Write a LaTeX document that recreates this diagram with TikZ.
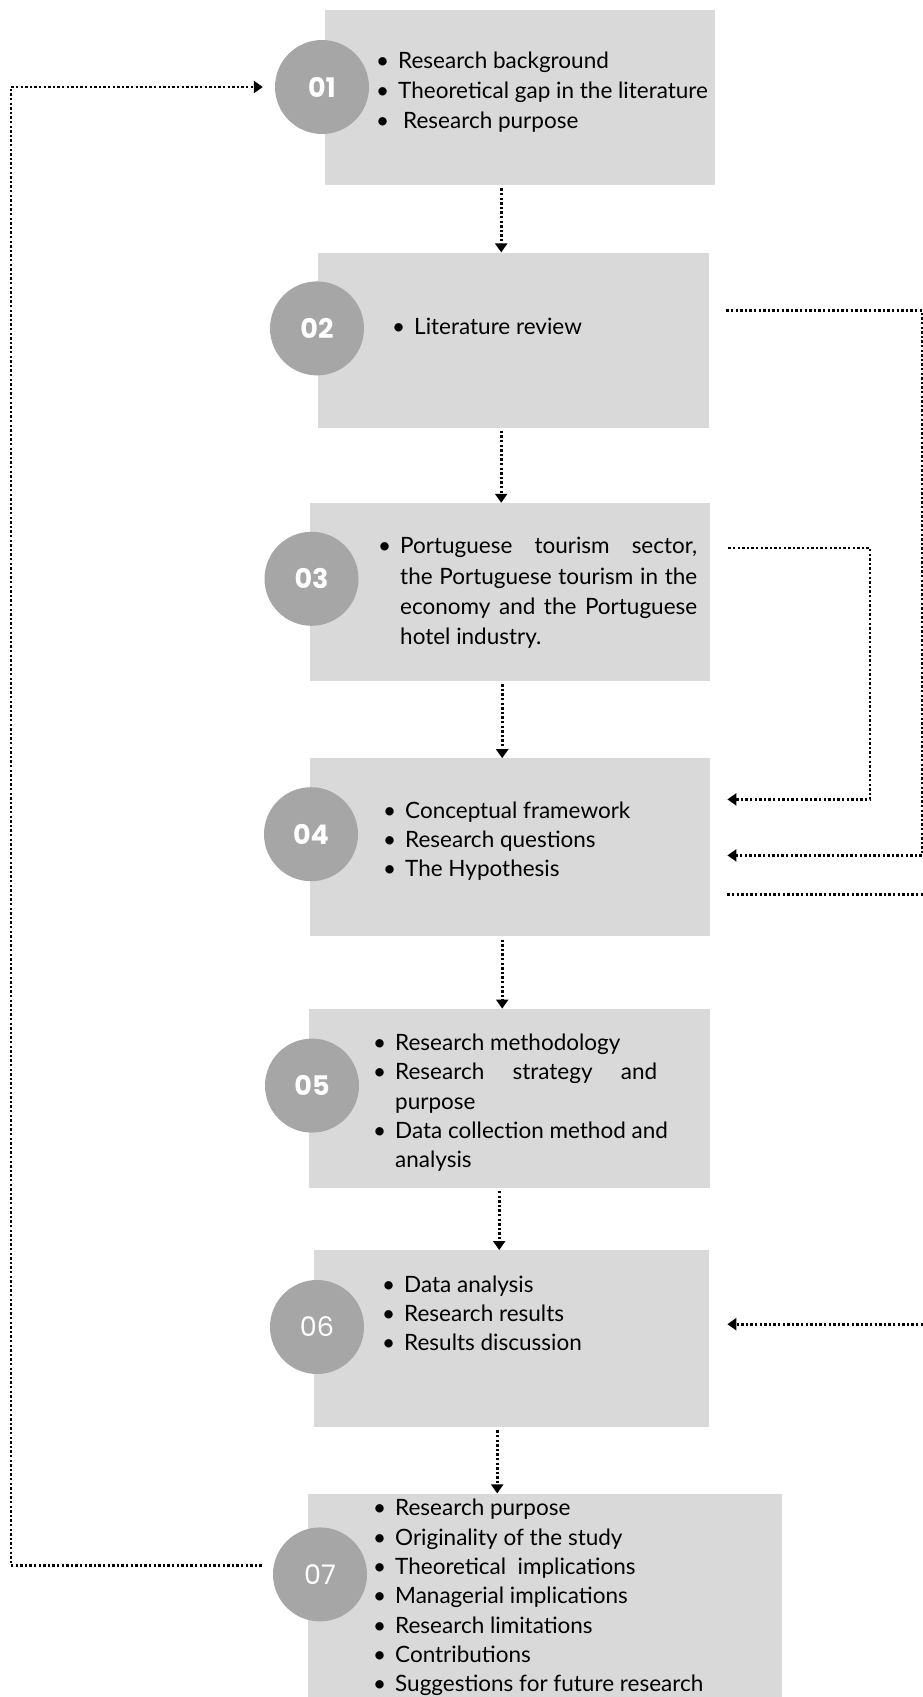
\documentclass[tikz,border=0pt]{standalone}
\usepackage{fontspec}
\setmainfont{Lato}
\newfontfamily\numfont{Poppins}
\usetikzlibrary{positioning, arrows.meta}

\definecolor{panelgray}{HTML}{D9D9D9}
\definecolor{discgray}{HTML}{A6A6A6}

\newlength{\bulletgap}
\setlength{\bulletgap}{22pt}
\newcommand{\bitem}[1]{\hangindent=\bulletgap\hangafter=1\noindent\makebox[\bulletgap][l]{\textbullet}#1\par}

\begin{document}
\begin{tikzpicture}[
    x=1pt, y=-1pt,
    panel/.style 2 args={rectangle, fill=panelgray, minimum width=#1, minimum height=#2, inner sep=0pt, anchor=north west},
    disc/.style={circle, fill=discgray, minimum size=94pt, inner sep=0pt, text=white, font=\numfont\fontsize{27}{27}\selectfont\bfseries},
    lightdisc/.style={disc, font=\numfont\fontsize{27}{27}\selectfont},
    items/.style={text width=#1, align=justify, inner sep=0pt, anchor=base west, font=\fontsize{22.5}{29.3}\selectfont},
    wide/.style={font=\fontsize{22.5}{30.3}\selectfont},
    link/.style={-{Triangle[width=12pt,length=9pt]}, line width=2.6pt, dash pattern=on 2.4pt off 2.2pt}
]
\useasboundingbox (0,0) rectangle (923,1697);

% Panels
\node (b1) [panel={390pt}{175pt}] at (325,10) {};
\node (b2) [panel={391pt}{175pt}, below=67pt of b1.south west, anchor=north west, xshift=-7pt] {};
\node (b3) [panel={400pt}{178pt}, below=75pt of b2.south west, anchor=north west, xshift=-8pt] {};
\node (b4) [panel={400pt}{178pt}, below=77pt of b3.south west, anchor=north west] {};
\node (b5) [panel={401pt}{179pt}, below=72pt of b4.south west, anchor=north west, xshift=-1pt] {};
\node (b6) [panel={395pt}{177pt}, below=62pt of b5.south west, anchor=north west, xshift=5pt] {};
\node (b7) [panel={474pt}{206pt}, below=66pt of b6.south west, anchor=north west, xshift=-6pt] {};

% Step numbers
\node (c1) [disc] at ([xshift=-3pt,yshift=-77pt]b1.north west) {01};
\node (c2) [disc] at ([xshift=-1pt,yshift=-76pt]b2.north west) {02};
\node (c3) [disc] at ([xshift=1.5pt,yshift=-76pt]b3.north west) {03};
\node (c4) [disc] at ([xshift=1pt,yshift=-76pt]b4.north west) {04};
\node (c5) [disc] at ([xshift=3pt,yshift=-77pt]b5.north west) {05};
\node (c6) [lightdisc] at ([xshift=3pt,yshift=-77pt]b6.north west) {06};
\node (c7) [lightdisc] at ([xshift=12pt,yshift=-81pt]b7.north west) {07};

% Contents
\node (t1) [items=340pt, wide] at ([xshift=51pt,yshift=-58pt]b1.north west) {%
  \bitem{Research background}
  \bitem{Theoretical gap in the literature}
  \bitem{\hspace{5pt}Research purpose}};
\node (t2) [items=290pt] at ([xshift=74pt,yshift=-82.5pt]b2.north west) {%
  \bitem{Literature review}};
\node (t3) [items=319pt, wide] at ([xshift=68pt,yshift=-51pt]b3.north west) {%
  \bitem{Portuguese tourism sector,\linebreak the Portuguese tourism in the\linebreak economy and the Portuguese\linebreak hotel industry.}};
\node (t4) [items=300pt] at ([xshift=73pt,yshift=-60pt]b4.north west) {%
  \bitem{Conceptual framework}
  \bitem{Research questions}
  \bitem{The Hypothesis}};
\node (t5) [items=284pt] at ([xshift=64pt,yshift=-42pt]b5.north west) {%
  \bitem{Research methodology}
  \bitem{Research strategy and\linebreak purpose}
  \bitem{\mbox{Data collection method and}\linebreak analysis}};
\node (t6) [items=300pt] at ([xshift=68pt,yshift=-42pt]b6.north west) {%
  \bitem{Data analysis}
  \bitem{Research results}
  \bitem{Results discussion}};
\node (t7) [items=380pt] at ([xshift=65pt,yshift=-22.5pt]b7.north west) {%
  \bitem{Research purpose}
  \bitem{Originality of the study}
  \bitem{Theoretical\ \ implications}
  \bitem{Managerial implications}
  \bitem{Research limitations}
  \bitem{Contributions}
  \bitem{Suggestions for future research}};

% Main flow
\draw [link, shorten <=3pt] ([xshift=-19pt]b1.south) -- ([xshift=-19pt]b1.south |- b2.north);
\draw [link, shorten <=3pt] ([xshift=-12.5pt]b2.south) -- ([xshift=-12.5pt]b2.south |- b3.north);
\draw [link, shorten <=3pt] ([xshift=-8pt]b3.south) -- ([xshift=-8pt]b3.south |- b4.north);
\draw [link, shorten <=3pt] ([xshift=-8pt]b4.south) -- ([xshift=-8pt]b4.south |- b5.north);
\draw [link, shorten <=3pt] ([xshift=-10.5pt]b5.south) -- ([xshift=-10.5pt]b5.south |- b6.north);
\draw [link, shorten <=3pt] ([xshift=-14.5pt]b6.south) -- ([xshift=-14.5pt]b6.south |- b7.north);

% Feedback loops
\coordinate (rimL) at (11,0);
\coordinate (rimR) at (922,0);
\coordinate (midR) at (870,0);
\coordinate (edgeR) at (923,0);
\coordinate (out2) at ([xshift=17pt,yshift=29.5pt]b2.east);
\coordinate (out3) at ([xshift=18pt,yshift=44pt]b3.east);
\coordinate (out4) at ([xshift=17pt,yshift=-47pt]b4.east);
\coordinate (in4a) at ([xshift=17pt,yshift=48pt]b4.east);
\coordinate (in4b) at ([xshift=17pt,yshift=-8pt]b4.east);
\coordinate (in6) at ([xshift=18pt,yshift=14.5pt]b6.east);
\coordinate (out7) at ([xshift=-11pt,yshift=9pt]c7.west);
\coordinate (in1) at ([xshift=-12pt]c1.west);

\draw [link] (out2) -| (rimR |- in4b) -- (in4b);
\draw [link] (out3) -| (midR |- in4a) -- (in4a);
\draw [link, -] (out4) -- (edgeR |- out4);
\draw [link] (edgeR |- in6) -- (in6);
\draw [link] (out7) -| (rimL |- in1) -- (in1);
\end{tikzpicture}
\end{document}
